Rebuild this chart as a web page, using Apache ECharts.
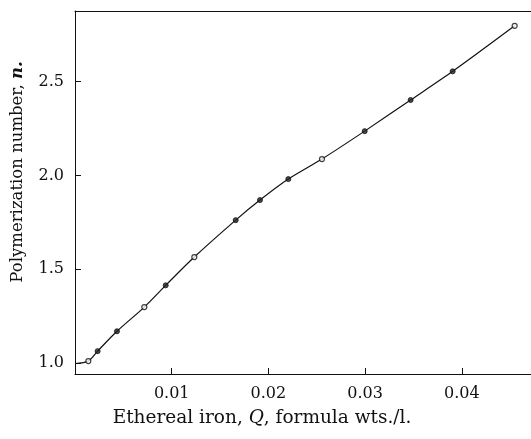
<!DOCTYPE html>
<html>
<head>
<meta charset="utf-8">
<script src="https://cdn.jsdelivr.net/npm/echarts@6/dist/echarts.min.js"></script>
<style>
html,body{margin:0;padding:0;background:#fff;}
#c{width:531px;height:439px;}
</style>
</head>
<body>
<div id="c"></div>
<script>
// Ethereal iron concentration Q (formula wts./l.)
const openQ = [0.00138, 0.00717, 0.01234, 0.02554, 0.04547];
const openN = [1.009, 1.297, 1.564, 2.087, 2.798];
const filledQ = [0.00234, 0.00434, 0.00938, 0.01662, 0.01913, 0.02206, 0.02996, 0.03471, 0.03906];
const filledN = [1.062, 1.168, 1.413, 1.761, 1.868, 1.980, 2.236, 2.402, 2.555];
// smooth curve starts at the origin of Q
const curveStart = [0, 0.995];
const xTicks = [0.01, 0.02, 0.03, 0.04];
const yTicks = [1.0, 1.5, 2.0, 2.5];

const allPts = [];
openQ.forEach((q, i) => allPts.push([q, openN[i]]));
filledQ.forEach((q, i) => allPts.push([q, filledN[i]]));
allPts.push(curveStart);
allPts.sort((a, b) => a[0] - b[0]);

const serif = 'DejaVu Serif';
const chart = echarts.init(document.getElementById('c'));
chart.setOption({
  animation: false,
  backgroundColor: '#fff',
  grid: {left: 75, right: 0, top: 11, bottom: 65, outerBoundsMode: 'none'},
  xAxis: [{
    type: 'value', min: 0, max: 0.04716,
    axisLine: {show: true, onZero: false, lineStyle: {color: '#111', width: 1}},
    axisTick: {show: true, inside: true, length: 6, customValues: xTicks, lineStyle: {color: '#111'}},
    axisLabel: {customValues: xTicks, margin: 12, color: '#111', fontFamily: serif, fontSize: 16,
      formatter: v => v.toFixed(2)},
    splitLine: {show: false}
  }, {
    type: 'value', position: 'top', min: 0, max: 0.04716,
    axisLine: {show: true, onZero: false, lineStyle: {color: '#111', width: 1}},
    axisTick: {show: false}, axisLabel: {show: false}, splitLine: {show: false}
  }],
  yAxis: {
    type: 'value', min: 0.94, max: 2.877,
    axisLine: {show: true, onZero: false, lineStyle: {color: '#111', width: 1}},
    axisTick: {show: true, inside: true, length: 6, customValues: yTicks, lineStyle: {color: '#111'}},
    axisLabel: {customValues: yTicks, margin: 11, color: '#111', fontFamily: serif, fontSize: 16,
      formatter: v => v.toFixed(1)},
    splitLine: {show: false}
  },
  graphic: [{
    type: 'text', x: 262, y: 418,
    style: {
      text: 'Ethereal iron, {i|Q}, formula wts./l.',
      rich: {i: {fontStyle: 'italic', fontFamily: serif, fontSize: 18.5, fill: '#111'}},
      font: '18.5px "DejaVu Serif"', fill: '#111', align: 'center', verticalAlign: 'middle'
    }
  }, {
    type: 'text', x: 18, y: 172, rotation: Math.PI / 2,
    style: {
      text: 'Polymerization number, {b|n.}',
      rich: {b: {fontStyle: 'italic', fontWeight: 'bold', fontFamily: serif, fontSize: 16.5, fill: '#111'}},
      font: '16.5px "DejaVu Serif"', fill: '#111', align: 'center', verticalAlign: 'middle'
    }
  }],
  series: [{
    type: 'line', data: allPts, smooth: 0.3, showSymbol: false,
    lineStyle: {color: '#111', width: 1.2}, z: 2
  }, {
    type: 'scatter', data: openQ.map((q, i) => [q, openN[i]]), symbol: 'circle', symbolSize: 5,
    itemStyle: {color: '#fff', borderColor: '#111', borderWidth: 1.2}, z: 3
  }, {
    type: 'scatter', data: filledQ.map((q, i) => [q, filledN[i]]), symbol: 'circle', symbolSize: 5,
    itemStyle: {color: '#222', borderColor: '#111', borderWidth: 1}, z: 3
  }]
});
</script>
</body>
</html>
